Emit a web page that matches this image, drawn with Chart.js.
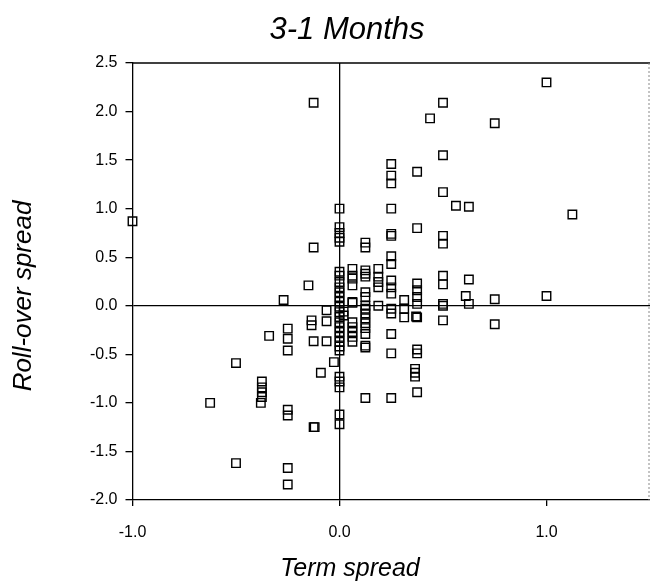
<!DOCTYPE html>
<html>
<head>
<meta charset="utf-8">
<script src="https://cdn.jsdelivr.net/npm/chart.js@4/dist/chart.umd.min.js"></script>
<style>
  html, body { margin: 0; padding: 0; background: #fff; overflow: hidden; }
  #wrap { width: 650px; height: 587px; position: relative; }
</style>
</head>
<body>
<div id="wrap"><canvas id="scatter"></canvas></div>
<script>
// chart texts
var chartTitle = "3-1 Months";
var xTitle = "Term spread";
var yTitle = "Roll-over spread";

// tick values on the axes
var xTickValues = [-1, 0, 1];
var yTickValues = [-2, -1.5, -1, -0.5, 0, 0.5, 1, 1.5, 2, 2.5];

var termSpread = [
  -1.0, -0.625, -0.5, -0.5, -0.375, -0.375, -0.375, -0.375, -0.38, -0.34,
  -0.27, -0.25, -0.25, -0.25, -0.25, -0.25, -0.25, -0.25, -0.15, -0.125,
  -0.125, -0.135, -0.135, -0.125, -0.125, -0.12, -0.09, -0.0625, -0.0625, -0.0625,
  -0.027,
  0, 0, 0, 0, 0, 0, 0, 0, 0, 0, 0, 0, 0, 0, 0, 0, 0, 0, 0, 0, 0, 0, 0, 0, 0, 0, 0,
  0.02, 0.02,
  0.0625, 0.0625, 0.0625, 0.0625, 0.0625, 0.0625, 0.0625, 0.0625, 0.0625, 0.0625, 0.0625,
  0.125, 0.125, 0.125, 0.125, 0.125, 0.125, 0.125, 0.125, 0.125, 0.125, 0.125, 0.125,
  0.125, 0.125, 0.125, 0.125, 0.125,
  0.1875, 0.1875, 0.1875, 0.1875, 0.1875,
  0.25, 0.25, 0.25, 0.25, 0.25, 0.25, 0.25, 0.25, 0.25, 0.25, 0.25, 0.25, 0.25, 0.25,
  0.25, 0.25,
  0.3125, 0.3125, 0.3125,
  0.375, 0.375, 0.375, 0.375, 0.375, 0.375, 0.375, 0.37, 0.375, 0.375, 0.365, 0.365,
  0.365, 0.375,
  0.4375,
  0.5, 0.5, 0.5, 0.5, 0.5, 0.5, 0.5, 0.5, 0.5, 0.5,
  0.5625,
  0.625, 0.625, 0.61, 0.625,
  0.75, 0.75, 0.75,
  1.0, 1.0,
  1.125
];
var rollOverSpread = [
  0.87, -1.0, -0.59, -1.62, -0.78, -0.84, -0.89, -0.94, -1.0, -0.31,
  0.06, -0.235, -0.34, -0.46, -1.07, -1.13, -1.67, -1.84, 0.21, 2.09,
  0.60, -0.15, -0.20, -0.365, -1.25, -1.25, -0.69, -0.046, -0.16, -0.365,
  -0.58,
  1.0, 0.81, 0.75, 0.70, 0.66, 0.35, 0.31, 0.245, 0.19, 0.14, 0.09, 0.04, -0.01, -0.065,
  -0.115, -0.17, -0.22, -0.27, -0.32, -0.37, -0.42, -0.46, -0.73, -0.78, -0.84, -1.12, -1.22,
  -0.06, -0.1,
  0.38, 0.31, 0.28, 0.21, 0.04, 0.03, -0.17, -0.22, -0.27, -0.32, -0.37,
  0.65, 0.60, 0.365, 0.33, 0.30, 0.14, 0.09, 0.0, -0.03, -0.08, -0.13, -0.18,
  -0.23, -0.29, -0.41, -0.43, -0.95,
  0.38, 0.30, 0.245, 0.19, 0.0,
  1.46, 1.34, 1.26, 1.0, 0.74, 0.72, 0.51, 0.43, 0.26, 0.19, 0.125, -0.03, -0.08, -0.29,
  -0.49, -0.95,
  0.06, -0.03, -0.12,
  1.38, 0.80, 0.23, 0.16, 0.09, 0.02, -0.12, -0.11, -0.45, -0.49, -0.65, -0.69,
  -0.73, -0.89,
  1.93,
  2.09, 1.55, 1.17, 0.72, 0.64, 0.31, 0.22, 0.02, 0.0, -0.15,
  1.03,
  1.02, 0.27, 0.10, 0.02,
  1.88, 0.067, -0.19,
  2.30, 0.10,
  0.94
];

var points = termSpread.map(function (x, i) { return { x: x, y: rollOverSpread[i] }; });

var tickFont = { family: '"Liberation Sans", Arial, sans-serif', size: 16 };

// black line only at the zero value, nothing at other ticks
function zeroLine(c) { return c.tick && c.tick.value === 0 ? '#000' : 'rgba(0,0,0,0)'; }

// top frame, faint right edge and the three titles
var frameAndTitles = {
  id: 'frameAndTitles',
  afterDraw: function (chart) {
    var ctx = chart.ctx, a = chart.chartArea;
    ctx.save();
    ctx.strokeStyle = '#000';
    ctx.lineWidth = 1.3;
    ctx.beginPath();
    ctx.moveTo(a.left, a.top);
    ctx.lineTo(a.right, a.top);
    ctx.stroke();
    ctx.setLineDash([2, 2]);
    ctx.strokeStyle = '#888';
    ctx.lineWidth = 1;
    ctx.beginPath();
    ctx.moveTo(a.right - 1, a.top);
    ctx.lineTo(a.right - 1, a.bottom);
    ctx.stroke();
    ctx.restore();

    ctx.save();
    ctx.fillStyle = '#000';
    ctx.textAlign = 'center';
    ctx.textBaseline = 'middle';
    ctx.font = 'italic 31px "Liberation Sans", Arial, sans-serif';
    ctx.fillText(chartTitle, 347, 30);
    ctx.font = 'italic 25px "Liberation Sans", Arial, sans-serif';
    ctx.fillText(xTitle, 350, 569);
    ctx.translate(24, 296);
    ctx.rotate(-Math.PI / 2);
    ctx.font = 'italic 26px "Liberation Sans", Arial, sans-serif';
    ctx.fillText(yTitle, 0, 0);
    ctx.restore();
  }
};

new Chart(document.getElementById('scatter').getContext('2d'), {
  type: 'scatter',
  data: {
    datasets: [{
      data: points,
      clip: false,
      pointStyle: 'rect',
      pointRadius: 6,
      pointHoverRadius: 6,
      pointBorderWidth: 1.4,
      pointBorderColor: '#000',
      pointBackgroundColor: 'rgba(0,0,0,0)'
    }]
  },
  options: {
    responsive: true,
    maintainAspectRatio: false,
    animation: false,
    layout: { autoPadding: false, padding: { top: 63, right: 0, left: 0, bottom: 0 } },
    plugins: {
      legend: { display: false },
      tooltip: { enabled: false }
    },
    scales: {
      x: {
        type: 'linear',
        min: -1,
        max: 1.5,
        afterBuildTicks: function (s) { s.ticks = xTickValues.map(function (v) { return { value: v }; }); },
        afterFit: function (s) { s.height = 87; },
        ticks: {
          color: '#000',
          font: tickFont,
          padding: 17,
          callback: function (v) { return Number(v).toFixed(1); }
        },
        grid: { color: zeroLine, lineWidth: 1.3, tickColor: '#000', tickLength: 6 },
        border: { color: '#000', width: 1.3 }
      },
      y: {
        type: 'linear',
        min: -2,
        max: 2.5,
        afterBuildTicks: function (s) { s.ticks = yTickValues.map(function (v) { return { value: v }; }); },
        afterFit: function (s) { s.width = 132.5; },
        ticks: {
          color: '#000',
          font: tickFont,
          padding: 8,
          callback: function (v) { return Number(v).toFixed(1); }
        },
        grid: { color: zeroLine, lineWidth: 1.3, tickColor: '#000', tickLength: 7 },
        border: { color: '#000', width: 1.3 }
      }
    }
  },
  plugins: [frameAndTitles]
});
</script>
</body>
</html>
